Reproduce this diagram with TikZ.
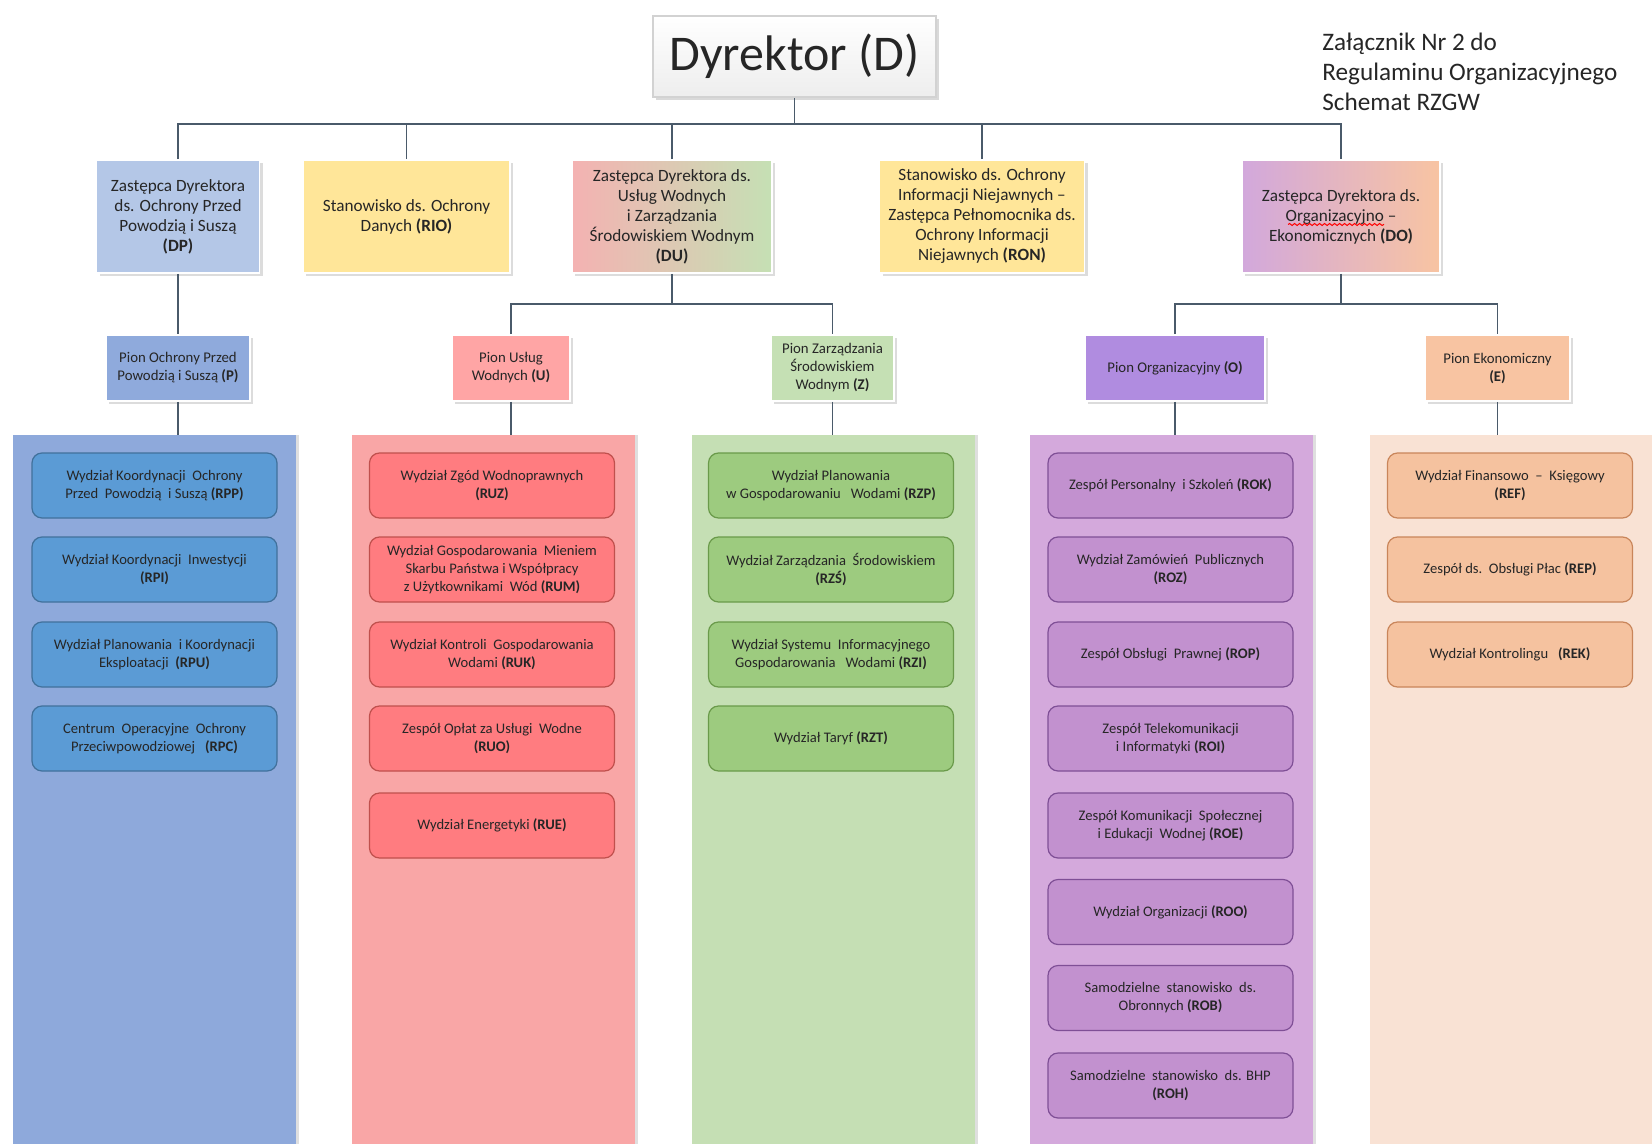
\documentclass[tikz,border=0pt]{standalone}
\usepackage{fontspec}
\setmainfont{Carlito}
\usetikzlibrary{shadows,decorations.pathmorphing}
\definecolor{txt}{HTML}{262626}
\definecolor{linec}{HTML}{4A5A6A}
\definecolor{bluepanel}{HTML}{8EA9DB}
\definecolor{blueunit}{HTML}{5B9BD5}
\definecolor{blueedge}{HTML}{41719C}
\definecolor{bluetwo}{HTML}{B4C7E7}
\definecolor{bluepion}{HTML}{8FAADC}
\definecolor{redpanel}{HTML}{F9A6A6}
\definecolor{redunit}{HTML}{FF7C80}
\definecolor{rededge}{HTML}{C0504D}
\definecolor{redpion}{HTML}{FFA5A5}
\definecolor{greenpanel}{HTML}{C5DFB4}
\definecolor{greenunit}{HTML}{9DCB7F}
\definecolor{greenedge}{HTML}{6A9A4A}
\definecolor{greenpion}{HTML}{C5E0B4}
\definecolor{purplepanel}{HTML}{D4A9DC}
\definecolor{purpleunit}{HTML}{C291CF}
\definecolor{purpleedge}{HTML}{7F4F96}
\definecolor{purplepion}{HTML}{B08CE0}
\definecolor{peachpanel}{HTML}{F9E2D4}
\definecolor{peachunit}{HTML}{F5C29F}
\definecolor{peachedge}{HTML}{C9855A}
\definecolor{peachpion}{HTML}{F8C4A2}
\definecolor{yellowtwo}{HTML}{FFE699}
\definecolor{pinktwo}{HTML}{F4B2B2}
\definecolor{lilactwo}{HTML}{D2A8DC}
\begin{document}
\begin{tikzpicture}[x=0.5pt,y=-0.5pt,
  conn/.style={draw=linec, line width=0.6pt},
  head/.style={draw=gray!35, line width=0.8pt, top color=white, bottom color=gray!14,
    minimum width=141.5pt, minimum height=40.5pt, text=txt,
    font=\fontsize{25}{28}\selectfont,
    drop shadow={opacity=0.3, shadow xshift=1.5pt, shadow yshift=-1.5pt}},
  lvltwo/.style={draw=white, line width=0.8pt, align=center, text=txt,
    font=\fontsize{8.6}{10}\selectfont, minimum height=56.5pt, inner sep=1pt,
    drop shadow={opacity=0.28, shadow xshift=1.5pt, shadow yshift=-1.5pt}},
  pion/.style={draw=white, line width=0.8pt, align=center, text=txt,
    font=\fontsize{7.4}{9}\selectfont, minimum height=33pt, inner sep=1pt,
    drop shadow={opacity=0.28, shadow xshift=1.5pt, shadow yshift=-1.5pt}},
  panel/.style={draw=none, minimum width=141.5pt, minimum height=354.5pt, inner sep=0pt,
    drop shadow={opacity=0.25, shadow xshift=1.5pt, shadow yshift=0pt}},
  unit/.style={rounded corners=5pt, line width=0.6pt, align=center, text=txt,
    font=\fontsize{7.3}{9}\selectfont, minimum width=122.5pt, minimum height=32.5pt, inner sep=1pt},
  bunit/.style={unit, fill=blueunit, draw=blueedge},
  runit/.style={unit, fill=redunit, draw=rededge},
  gunit/.style={unit, fill=greenunit, draw=greenedge},
  punit/.style={unit, fill=purpleunit, draw=purpleedge},
  eunit/.style={unit, fill=peachunit, draw=peachedge},
]
\useasboundingbox (0,0) rectangle (1652,1144);

% --- panels ---
\node[panel, fill=bluepanel]   (C1) at (154.5,789.5) {};
\node[panel, fill=redpanel]    (C2) at (493,789.5) {};
\node[panel, fill=greenpanel]  (C3) at (833,789.5) {};
\node[panel, fill=purplepanel] (C4) at (1171.5,789.5) {};
\node[panel, fill=peachpanel]  (C5) at (1511,789.5) {};

% --- head ---
\node[head] (D) at (794.5,56.5) {Dyrektor (D)};

\node[anchor=north west, align=left, text=txt, font=\fontsize{12.6}{15}\selectfont, inner sep=0pt]
  (note) at (1322,33) {Załącznik Nr 2 do\\Regulaminu Organizacyjnego\\Schemat RZGW};

% --- level two ---
\node[lvltwo, fill=bluetwo, minimum width=81.5pt] (DP) at (178,216.5)
  {Zastępca Dyrektora\\ds. Ochrony Przed\\Powodzią i Suszą\\\textbf{(DP)}};
\node[lvltwo, fill=yellowtwo, minimum width=103.5pt] (RIO) at (406.5,216.5)
  {Stanowisko ds. Ochrony\\Danych \textbf{(RIO)}};
\node[lvltwo, left color=pinktwo, right color=greenpion, minimum width=100pt] (DU) at (672,216.5)
  {Zastępca Dyrektora ds.\\Usług Wodnych\\i Zarządzania\\Środowiskiem Wodnym\\\textbf{(DU)}};
\node[lvltwo, fill=yellowtwo, minimum width=102.5pt] (RON) at (982,216.5)
  {Stanowisko ds. Ochrony\\Informacji Niejawnych –\\Zastępca Pełnomocnika ds.\\Ochrony Informacji\\Niejawnych \textbf{(RON)}};
\node[lvltwo, left color=lilactwo, right color=peachpion, minimum width=99pt] (DO) at (1341,216.5)
  {Zastępca Dyrektora ds.\\Organizacyjno –\\Ekonomicznych \textbf{(DO)}};
\draw[red, line width=0.5pt, decorate, decoration={snake, amplitude=0.5pt, segment length=2.5pt}]
  (1288,224.5) -- (1384,224.5);

% --- pion ---
\node[pion, fill=bluepion, minimum width=72pt] (P) at (178,368) {Pion Ochrony Przed\\Powodzią i Suszą \textbf{(P)}};
\node[pion, fill=redpion, minimum width=59pt] (U) at (511,368) {Pion Usług\\Wodnych \textbf{(U)}};
\node[pion, fill=greenpion, minimum width=61.5pt] (Z) at (832.5,368) {Pion Zarządzania\\Środowiskiem\\Wodnym \textbf{(Z)}};
\node[pion, fill=purplepion, minimum width=90pt] (O) at (1175,368) {Pion Organizacyjny \textbf{(O)}};
\node[pion, fill=peachpion, minimum width=72.5pt] (E) at (1497.5,368) {Pion Ekonomiczny\\\textbf{(E)}};

% --- connectors ---
\coordinate (bus) at (0,124);
\coordinate (busU) at (0,304);
\draw[conn] (D.south) -- (D.south |- bus);
\draw[conn] (DP.north) -- (DP.north |- bus) -- (DO.north |- bus) -- (DO.north);
\draw[conn] (RIO.north) -- (RIO.north |- bus);
\draw[conn] (DU.north) -- (DU.north |- bus);
\draw[conn] (RON.north) -- (RON.north |- bus);
\draw[conn] (DP.south) -- (P.north);
\draw[conn] (DU.south) -- (DU.south |- busU);
\draw[conn] (U.north) -- (U.north |- busU) -- (Z.north |- busU) -- (Z.north);
\draw[conn] (DO.south) -- (DO.south |- busU);
\draw[conn] (O.north) -- (O.north |- busU) -- (E.north |- busU) -- (E.north);
\draw[conn] (P.south) -- (P.south |- C1.north);
\draw[conn] (U.south) -- (U.south |- C2.north);
\draw[conn] (Z.south) -- (Z.south |- C3.north);
\draw[conn] (O.south) -- (O.south |- C4.north);
\draw[conn] (E.south) -- (E.south |- C5.north);

% --- blue units ---
\node[bunit] (RPP) at (154.5,485.5) {Wydział Koordynacji\ \ Ochrony\\Przed\ \ Powodzią\ \ i\ Suszą \textbf{(RPP)}};
\node[bunit] (RPI) at (154.5,569.5) {Wydział Koordynacji\ \ Inwestycji\\\textbf{(RPI)}};
\node[bunit] (RPU) at (154.5,654.5) {Wydział Planowania\ \ i\ Koordynacji\\Eksploatacji\ \ \textbf{(RPU)}};
\node[bunit] (RPC) at (154.5,738.5) {Centrum\ \ Operacyjne\ \ Ochrony\\Przeciwpowodziowej\ \ \ \textbf{(RPC)}};

% --- red units ---
\node[runit] (RUZ) at (492,485.5) {Wydział Zgód Wodnoprawnych\\\textbf{(RUZ)}};
\node[runit] (RUM) at (492,569.5) {Wydział Gospodarowania\ \ Mieniem\\Skarbu Państwa i Współpracy\\z Użytkownikami\ \ Wód \textbf{(RUM)}};
\node[runit] (RUK) at (492,654.5) {Wydział Kontroli\ \ Gospodarowania\\Wodami \textbf{(RUK)}};
\node[runit] (RUO) at (492,738.5) {Zespół Opłat\ za Usługi\ \ Wodne\\\textbf{(RUO)}};
\node[runit] (RUE) at (492,825.5) {Wydział Energetyki\ \textbf{(RUE)}};

% --- green units ---
\node[gunit] (RZP) at (831,485.5) {Wydział Planowania\\w Gospodarowaniu\ \ \ Wodami \textbf{(RZP)}};
\node[gunit] (RZS) at (831,569.5) {Wydział Zarządzania\ \ Środowiskiem\\\textbf{(RZŚ)}};
\node[gunit] (RZI) at (831,654.5) {Wydział Systemu\ \ Informacyjnego\\Gospodarowania\ \ \ Wodami \textbf{(RZI)}};
\node[gunit] (RZT) at (831,738.5) {Wydział Taryf \textbf{(RZT)}};

% --- purple units ---
\node[punit] (ROK) at (1170.5,485.5) {Zespół Personalny\ \ i Szkoleń \textbf{(ROK)}};
\node[punit] (ROZ) at (1170.5,569.5) {Wydział Zamówień\ \ Publicznych\\\textbf{(ROZ)}};
\node[punit] (ROP) at (1170.5,654.5) {Zespół Obsługi\ \ Prawnej\ \textbf{(ROP)}};
\node[punit] (ROI) at (1170.5,738.5) {Zespół Telekomunikacji\\i Informatyki \textbf{(ROI)}};
\node[punit] (ROE) at (1170.5,825.5) {Zespół Komunikacji\ \ Społecznej\\i Edukacji\ \ Wodnej \textbf{(ROE)}};
\node[punit] (ROO) at (1170.5,912) {Wydział Organizacji \textbf{(ROO)}};
\node[punit] (ROB) at (1170.5,998) {Samodzielne\ \ stanowisko\ \ ds.\\Obronnych \textbf{(ROB)}};
\node[punit] (ROH) at (1170.5,1085.5) {Samodzielne\ \ stanowisko\ \ ds. BHP\\\textbf{(ROH)}};

% --- peach units ---
\node[eunit] (REF) at (1510,485.5) {Wydział Finansowo\ \ –\ \ Księgowy\\\textbf{(REF)}};
\node[eunit] (REP) at (1510,569.5) {Zespół ds.\ \ Obsługi Płac \textbf{(REP)}};
\node[eunit] (REK) at (1510,654.5) {Wydział Kontrolingu\ \ \ \textbf{(REK)}};
\end{tikzpicture}
\end{document}
